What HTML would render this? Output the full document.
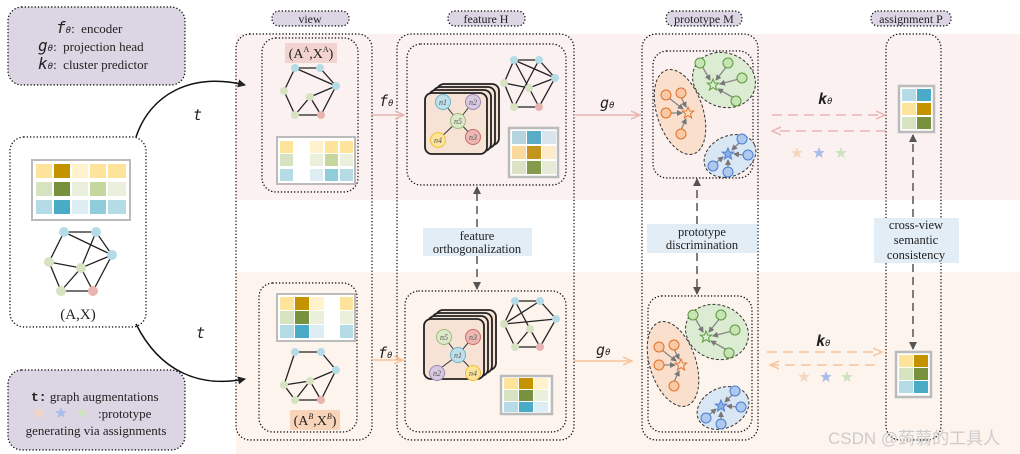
<!DOCTYPE html>
<html><head><meta charset="utf-8"><style>
html,body{margin:0;padding:0;background:#fff}
svg{display:block}
.s{font-family:"Liberation Serif",serif;fill:#222}
.m{font-family:"DejaVu Sans Mono","Liberation Mono",monospace;font-style:italic;fill:#222}
</style></head><body>
<svg width="1020" height="454" viewBox="0 0 1020 454" xmlns="http://www.w3.org/2000/svg">
<defs>
<marker id="ak" markerWidth="8" markerHeight="8" refX="7" refY="4" orient="auto" markerUnits="userSpaceOnUse"><path d="M0,0 L8,4 L0,8 z" fill="#222"/></marker>
<marker id="ag" markerWidth="8" markerHeight="8" refX="7" refY="4" orient="auto" markerUnits="userSpaceOnUse"><path d="M0,0 L8,4 L0,8 z" fill="#555"/></marker>
<marker id="ap" markerWidth="10" markerHeight="10" refX="9" refY="5" orient="auto" markerUnits="userSpaceOnUse"><path d="M0,1 L9,5 L0,9" fill="none" stroke="#e8b4b0" stroke-width="1.5"/></marker>
<marker id="ao" markerWidth="10" markerHeight="10" refX="9" refY="5" orient="auto" markerUnits="userSpaceOnUse"><path d="M0,1 L9,5 L0,9" fill="none" stroke="#f7c49c" stroke-width="1.5"/></marker>
<marker id="as" markerWidth="6" markerHeight="6" refX="5" refY="3" orient="auto" markerUnits="userSpaceOnUse"><path d="M0,0 L6,3 L0,6 z" fill="#777"/></marker>
<path id="star" d="M0,-6 L1.6,-2 L5.7,-1.9 L2.5,0.8 L3.6,5 L0,2.6 L-3.6,5 L-2.5,0.8 L-5.7,-1.9 L-1.6,-2 z"/>
<g id="clusters">
 <ellipse cx="680" cy="112" rx="23" ry="44" transform="rotate(-18 680 112)" fill="#f9dfcc" stroke="#333" stroke-dasharray="3 2"/>
 <ellipse cx="724" cy="80" rx="32" ry="27" transform="rotate(20 724 80)" fill="#dcecd2" stroke="#333" stroke-dasharray="3 2"/>
 <ellipse cx="730" cy="156" rx="27" ry="20" transform="rotate(-25 730 156)" fill="#d9e6f4" stroke="#333" stroke-dasharray="3 2"/>
 <g stroke="#888" stroke-width="1.3" marker-end="url(#as)">
  <line x1="702" y1="66" x2="710" y2="80"/><line x1="727" y1="66" x2="716" y2="80"/><line x1="739" y1="79" x2="720" y2="84"/><line x1="734" y1="98" x2="718" y2="89"/>
  <line x1="669" y1="98" x2="683" y2="109"/><line x1="681" y1="97" x2="686" y2="107"/><line x1="670" y1="113" x2="682" y2="113"/><line x1="681" y1="130" x2="686" y2="119"/>
  <line x1="740" y1="142" x2="732" y2="150"/><line x1="744" y1="155" x2="734" y2="154"/><line x1="728" y1="168" x2="728" y2="160"/><line x1="716" y1="163" x2="723" y2="157"/>
 </g>
 <g fill="#c8e3b4" stroke="#5a9a3c" stroke-width="1"><circle cx="700" cy="63" r="5"/><circle cx="728" cy="63" r="5"/><circle cx="742" cy="78" r="5"/><circle cx="736" cy="101" r="5"/></g>
 <g fill="#f9c9a6" stroke="#e0712c" stroke-width="1"><circle cx="666" cy="95" r="5"/><circle cx="681" cy="93" r="5"/><circle cx="666" cy="113" r="5"/><circle cx="681" cy="134" r="5"/></g>
 <g fill="#aec8ee" stroke="#4a7ed0" stroke-width="1"><circle cx="742" cy="139" r="5"/><circle cx="748" cy="155" r="5"/><circle cx="728" cy="172" r="5"/><circle cx="713" cy="166" r="5"/></g>
 <use href="#star" x="713" y="85" fill="none" stroke="#5a9a3c"/>
 <use href="#star" x="688" y="113" fill="none" stroke="#e0712c"/>
 <use href="#star" x="728" y="154" fill="#8fb0e6" stroke="#4a7ed0"/>
</g>
</defs>

<rect x="236" y="34" width="784" height="166" fill="#fbf1f0"/>
<rect x="236" y="272" width="784" height="182" fill="#fdf4ee"/>

<g fill="none" stroke="#111" stroke-width="1.4" stroke-dasharray="0.1 3.2" stroke-linecap="round">
 <rect x="8" y="7" width="177" height="78" rx="14" fill="#dcd6e4"/>
 <rect x="8" y="370" width="177" height="80" rx="14" fill="#dcd6e4"/>
 <rect x="10" y="137" width="136" height="190" rx="14"/>
 <rect x="236" y="34" width="136" height="406" rx="14"/>
 <rect x="262" y="38" width="96" height="154" rx="14"/>
 <rect x="259" y="283" width="98" height="149" rx="14"/>
 <rect x="397" y="34" width="177" height="406" rx="14"/>
 <rect x="407" y="44" width="159" height="141" rx="14"/>
 <rect x="405" y="291" width="161" height="141" rx="14"/>
 <rect x="642" y="34" width="116" height="406" rx="14"/>
 <rect x="653" y="51" width="100" height="127" rx="14"/>
 <rect x="648" y="296" width="104" height="136" rx="14"/>
 <rect x="886" y="34" width="55" height="406" rx="14"/>
 <rect x="272" y="11" width="77" height="15" rx="7" fill="#dcd6e4"/>
 <rect x="448" y="11" width="77" height="15" rx="7" fill="#dcd6e4"/>
 <rect x="666" y="11" width="76" height="15" rx="7" fill="#dcd6e4"/>
 <rect x="871" y="11" width="80" height="15" rx="7" fill="#dcd6e4"/>
</g>
<g class="s" font-size="12" text-anchor="middle">
 <text x="310" y="23">view</text><text x="486" y="23">feature H</text><text x="704" y="23">prototype M</text><text x="911" y="23">assignment P</text>
</g>

<g font-size="13">
 <text x="56" y="33"><tspan class="m" font-size="16">f</tspan><tspan class="m" font-size="9">θ</tspan><tspan class="s">:&#160;&#160;encoder</tspan></text>
 <text x="38" y="51"><tspan class="m" font-size="16">g</tspan><tspan class="m" font-size="9">θ</tspan><tspan class="s">:&#160;&#160;projection head</tspan></text>
 <text x="38" y="69"><tspan class="m" font-size="16">k</tspan><tspan class="m" font-size="9">θ</tspan><tspan class="s">:&#160;&#160;cluster predictor</tspan></text>
 <text x="31" y="401"><tspan font-family="Liberation Mono,monospace" font-weight="bold" fill="#222">t:</tspan><tspan class="s"> graph augmentations</tspan></text>
 <text x="98" y="418" class="s">:prototype</text>
 <text x="96" y="435" class="s" text-anchor="middle">generating via assignments</text>
</g>
<use href="#star" x="39" y="413" fill="#f6d6bd"/><use href="#star" x="61" y="413" fill="#a9bde8"/><use href="#star" x="82" y="413" fill="#cfe3c1"/>

<g>
 <rect x="32" y="160" width="98" height="60" fill="#fff" stroke="#bbb" stroke-width="2"/>
 <rect x="36" y="164" width="16" height="14" fill="#fde49a"/><rect x="54" y="164" width="16" height="14" fill="#c49300"/><rect x="72" y="164" width="16" height="14" fill="#fff2cc"/><rect x="90" y="164" width="16" height="14" fill="#fde49a"/><rect x="108" y="164" width="18" height="14" fill="#fde49a"/>
 <rect x="36" y="182" width="16" height="14" fill="#d7e2c0"/><rect x="54" y="182" width="16" height="14" fill="#78913c"/><rect x="72" y="182" width="16" height="14" fill="#eaf0dc"/><rect x="90" y="182" width="16" height="14" fill="#c5d79e"/><rect x="108" y="182" width="18" height="14" fill="#eaf0dc"/>
 <rect x="36" y="200" width="16" height="14" fill="#b5dce6"/><rect x="54" y="200" width="16" height="14" fill="#4aabc6"/><rect x="72" y="200" width="16" height="14" fill="#dceef4"/><rect x="90" y="200" width="16" height="14" fill="#90cdda"/><rect x="108" y="200" width="18" height="14" fill="#b5dce6"/>
</g>
<g>
 <rect x="277" y="137" width="78" height="47" fill="#fff" stroke="#bbb" stroke-width="2"/>
 <rect x="280" y="141" width="13" height="12" fill="#fde49a"/><rect x="310" y="141" width="13" height="12" fill="#fff2cc"/><rect x="325" y="141" width="13" height="12" fill="#fde49a"/><rect x="340" y="141" width="13" height="12" fill="#fde49a"/>
 <rect x="280" y="154" width="13" height="12" fill="#d7e2c0"/><rect x="310" y="154" width="13" height="12" fill="#eaf0dc"/><rect x="325" y="154" width="13" height="12" fill="#c5d79e"/><rect x="340" y="154" width="13" height="12" fill="#eaf0dc"/>
 <rect x="280" y="169" width="13" height="12" fill="#b5dce6"/><rect x="310" y="169" width="13" height="12" fill="#dceef4"/><rect x="325" y="169" width="13" height="12" fill="#90cdda"/><rect x="340" y="169" width="13" height="12" fill="#b5dce6"/>
</g>
<g>
 <rect x="277" y="294" width="78" height="47" fill="#fff" stroke="#bbb" stroke-width="2"/>
 <rect x="280" y="297" width="14" height="13" fill="#fde49a"/><rect x="295" y="297" width="14" height="13" fill="#c49300"/><rect x="310" y="297" width="14" height="13" fill="#fff2cc"/><rect x="340" y="297" width="13" height="13" fill="#fde49a"/>
 <rect x="280" y="311" width="14" height="13" fill="#d7e2c0"/><rect x="295" y="311" width="14" height="13" fill="#78913c"/><rect x="310" y="311" width="14" height="13" fill="#eaf0dc"/><rect x="340" y="311" width="13" height="13" fill="#eaf0dc"/>
 <rect x="280" y="325" width="14" height="13" fill="#b5dce6"/><rect x="295" y="325" width="14" height="13" fill="#4aabc6"/><rect x="310" y="325" width="14" height="13" fill="#dceef4"/><rect x="340" y="325" width="13" height="13" fill="#b5dce6"/>
</g>
<g>
 <rect x="509" y="128" width="49" height="49" fill="#fff" stroke="#bbb" stroke-width="2.5"/>
 <rect x="512" y="131" width="14" height="13" fill="#b5d4e0"/><rect x="527" y="131" width="14" height="13" fill="#5aabc6"/><rect x="542" y="131" width="14" height="13" fill="#dbe4ea"/>
 <rect x="512" y="146" width="14" height="13" fill="#fad99a"/><rect x="527" y="146" width="14" height="13" fill="#c4951e"/><rect x="542" y="146" width="14" height="13" fill="#fdebcc"/>
 <rect x="512" y="161" width="14" height="13" fill="#dbe2c6"/><rect x="527" y="161" width="14" height="13" fill="#849a4c"/><rect x="542" y="161" width="14" height="13" fill="#e8ead8"/>
</g>
<g>
 <rect x="501" y="376" width="51" height="38" fill="#fff" stroke="#bbb" stroke-width="2.5"/>
 <rect x="504" y="378" width="14" height="11" fill="#fde49a"/><rect x="519" y="378" width="14" height="11" fill="#c49300"/><rect x="534" y="378" width="14" height="11" fill="#fff2cc"/>
 <rect x="504" y="390" width="14" height="11" fill="#d7e2c0"/><rect x="519" y="390" width="14" height="11" fill="#78913c"/><rect x="534" y="390" width="14" height="11" fill="#eaf0dc"/>
 <rect x="504" y="402" width="14" height="10" fill="#b5dce6"/><rect x="519" y="402" width="14" height="10" fill="#4aabc6"/><rect x="534" y="402" width="14" height="10" fill="#dceef4"/>
</g>
<g>
 <rect x="899" y="86" width="35" height="46" fill="#fff" stroke="#bbb" stroke-width="2.5"/>
 <rect x="902" y="89" width="14" height="12" fill="#b5dce6"/><rect x="917" y="89" width="14" height="12" fill="#4aabc6"/>
 <rect x="902" y="103" width="14" height="12" fill="#fde49a"/><rect x="917" y="103" width="14" height="12" fill="#c49300"/>
 <rect x="902" y="117" width="14" height="12" fill="#d7e2c0"/><rect x="917" y="117" width="14" height="12" fill="#78913c"/>
</g>
<g>
 <rect x="896" y="352" width="35" height="45" fill="#fff" stroke="#bbb" stroke-width="2.5"/>
 <rect x="899" y="355" width="14" height="12" fill="#fde49a"/><rect x="914" y="355" width="14" height="12" fill="#c49300"/>
 <rect x="899" y="368" width="14" height="12" fill="#d7e2c0"/><rect x="914" y="368" width="14" height="12" fill="#78913c"/>
 <rect x="899" y="381" width="14" height="12" fill="#b5dce6"/><rect x="914" y="381" width="14" height="12" fill="#4aabc6"/>
</g>

<g stroke="#222" stroke-width="1.3" fill="none">
 <path d="M64,232 L96,232 L112,255 L93,291 L61,291 L49,262 Z M64,232 L112,255 M96,232 L81,268 M49,262 L81,268 L112,255 M81,268 L61,291 M81,268 L93,291"/>
 <path d="M295,68 L320,68 L336,86 L321,115 L295,115 L284,91 Z M295,68 L336,86 M310,97 L336,86 M310,97 L295,115 M310,97 L321,115"/>
 <path d="M295,352 L321,352 M295,352 L284,385 L295,400 M321,352 L336,370 L321,400 L295,400 M284,385 L310,381 L336,370 M310,381 L295,400 M310,381 L321,400"/>
 <path d="M514,60 L539,60 L555,78 L539,107 L514,107 L504,83 Z M514,60 L529,88 M539,60 L514,107 M514,60 L555,78 M504,83 L529,88 L555,78 M529,88 L539,107"/>
 <path d="M515,301 L540,301 L556,319 L540,347 L515,347 L504,324 Z M515,301 L530,329 M540,301 L504,324 M504,324 L556,319 M530,329 L515,347 M530,329 L540,347"/>
</g>
<g>
 <circle cx="64" cy="232" r="5" fill="#b5dce6"/><circle cx="96" cy="232" r="5" fill="#b5dce6"/><circle cx="112" cy="255" r="5" fill="#b5dce6"/><circle cx="49" cy="262" r="5" fill="#d7e2c0"/><circle cx="81" cy="268" r="5" fill="#d7e2c0"/><circle cx="61" cy="291" r="5" fill="#d7e2c0"/><circle cx="93" cy="291" r="5" fill="#e8b4b0"/>
 <circle cx="295" cy="68" r="4" fill="#b5dce6"/><circle cx="320" cy="68" r="4" fill="#b5dce6"/><circle cx="336" cy="86" r="4" fill="#b5dce6"/><circle cx="284" cy="91" r="4" fill="#d7e2c0"/><circle cx="310" cy="97" r="4" fill="#d7e2c0"/><circle cx="295" cy="115" r="4" fill="#d7e2c0"/><circle cx="321" cy="115" r="4" fill="#e8b4b0"/>
 <circle cx="295" cy="352" r="4" fill="#b5dce6"/><circle cx="321" cy="352" r="4" fill="#b5dce6"/><circle cx="336" cy="370" r="4" fill="#b5dce6"/><circle cx="284" cy="385" r="4" fill="#d7e2c0"/><circle cx="310" cy="381" r="4" fill="#d7e2c0"/><circle cx="295" cy="400" r="4" fill="#d7e2c0"/><circle cx="321" cy="400" r="4" fill="#e8b4b0"/>
 <circle cx="514" cy="60" r="4" fill="#b5dce6"/><circle cx="539" cy="60" r="4" fill="#b5dce6"/><circle cx="555" cy="78" r="4" fill="#b5dce6"/><circle cx="504" cy="83" r="4" fill="#d7e2c0"/><circle cx="529" cy="88" r="4" fill="#d7e2c0"/><circle cx="514" cy="107" r="4" fill="#d7e2c0"/><circle cx="539" cy="107" r="4" fill="#e8b4b0"/>
 <circle cx="515" cy="301" r="4" fill="#b5dce6"/><circle cx="540" cy="301" r="4" fill="#b5dce6"/><circle cx="556" cy="319" r="4" fill="#b5dce6"/><circle cx="504" cy="324" r="4" fill="#d7e2c0"/><circle cx="530" cy="329" r="4" fill="#d7e2c0"/><circle cx="515" cy="347" r="4" fill="#d7e2c0"/><circle cx="540" cy="347" r="4" fill="#e8b4b0"/>
</g>
<rect x="285" y="43" width="52" height="20" fill="#f3d3d0"/>
<text x="311" y="58" class="s" font-size="14" text-anchor="middle">(A<tspan font-size="8" dy="-6">A</tspan><tspan dy="6">,X</tspan><tspan font-size="8" dy="-6">A</tspan><tspan dy="6">)</tspan></text>
<rect x="290" y="410" width="50" height="20" fill="#fad4b8"/>
<text x="315" y="425" class="s" font-size="14" text-anchor="middle">(A<tspan font-size="8" dy="-6" font-style="italic">B</tspan><tspan dy="6">,X</tspan><tspan font-size="8" dy="-6" font-style="italic">B</tspan><tspan dy="6">)</tspan></text>
<text x="78" y="319" class="s" font-size="15" text-anchor="middle">(A,X)</text>

<g stroke="#222" stroke-width="1.8" fill="#f7e3d6">
 <rect x="437" y="84" width="62" height="61" rx="7"/><rect x="433" y="87" width="62" height="61" rx="7"/><rect x="429" y="90" width="62" height="61" rx="7"/><rect x="425" y="93" width="62" height="61" rx="7"/>
 <rect x="436" y="310" width="60" height="60" rx="7"/><rect x="432" y="313" width="60" height="60" rx="7"/><rect x="428" y="316" width="60" height="60" rx="7"/><rect x="424" y="319" width="60" height="60" rx="7"/>
</g>
<g stroke="#333" stroke-width="1" fill="none"><path d="M443,102 L458,121 L473,102 M458,121 L438,140 M458,121 L473,137 M444,337 L458,355 L473,337 M458,355 L437,371 M458,355 L473,371"/></g>
<g font-family="Liberation Serif,serif" font-style="italic" font-size="8" text-anchor="middle" fill="#555">
 <circle cx="443" cy="102" r="7.5" fill="#bfe0ea" stroke="#6fb3c8"/><text x="443" y="105">n1</text>
 <circle cx="473" cy="102" r="7.5" fill="#d6c9e0" stroke="#9c88b4"/><text x="473" y="105">n2</text>
 <circle cx="458" cy="121" r="7.5" fill="#dce8c8" stroke="#9fbc7e"/><text x="458" y="124">n5</text>
 <circle cx="438" cy="140" r="7.5" fill="#fde49a" stroke="#f0c030"/><text x="438" y="143">n4</text>
 <circle cx="473" cy="137" r="7.5" fill="#edb8b4" stroke="#cc6b66"/><text x="473" y="140">n3</text>
 <circle cx="444" cy="337" r="7.5" fill="#dce8c8" stroke="#9fbc7e"/><text x="444" y="340">n5</text>
 <circle cx="473" cy="337" r="7.5" fill="#edb8b4" stroke="#cc6b66"/><text x="473" y="340">n3</text>
 <circle cx="458" cy="355" r="7.5" fill="#bfe0ea" stroke="#6fb3c8"/><text x="458" y="358">n1</text>
 <circle cx="437" cy="373" r="7.5" fill="#d6c9e0" stroke="#9c88b4"/><text x="437" y="376">n2</text>
 <circle cx="473" cy="373" r="7.5" fill="#fde49a" stroke="#f0c030"/><text x="473" y="376">n4</text>
</g>

<use href="#clusters"/>
<use href="#clusters" transform="translate(-7,252)"/>

<path d="M136,137 C150,95 190,72 245,85" fill="none" stroke="#111" stroke-width="1.5" marker-end="url(#ak)"/>
<path d="M136,324 C160,372 200,388 245,379" fill="none" stroke="#111" stroke-width="1.5" marker-end="url(#ak)"/>
<text x="193" y="120" class="m" font-size="15" font-style="normal">t</text>
<text x="196" y="338" class="m" font-size="15" font-style="normal">t</text>

<g stroke-width="1.5" fill="none">
 <line x1="372" y1="115" x2="404" y2="115" stroke="#e8b4b0" marker-end="url(#ap)"/>
 <line x1="574" y1="115" x2="640" y2="115" stroke="#e8b4b0" marker-end="url(#ap)"/>
 <line x1="772" y1="115" x2="885" y2="115" stroke="#e8b4b0" stroke-dasharray="10 6" marker-end="url(#ap)"/>
 <line x1="886" y1="131" x2="772" y2="131" stroke="#e8b4b0" stroke-dasharray="10 6" marker-end="url(#ap)"/>
 <line x1="372" y1="360" x2="403" y2="360" stroke="#f7c49c" marker-end="url(#ao)"/>
 <line x1="574" y1="361" x2="632" y2="361" stroke="#f7c49c" marker-end="url(#ao)"/>
 <line x1="767" y1="352" x2="882" y2="352" stroke="#f7c49c" stroke-dasharray="10 6" marker-end="url(#ao)"/>
 <line x1="875" y1="365" x2="770" y2="365" stroke="#f7c49c" stroke-dasharray="10 6" marker-end="url(#ao)"/>
</g>
<g font-size="15">
 <text x="379" y="106"><tspan class="m">f</tspan><tspan class="m" font-size="9">θ</tspan></text>
 <text x="378" y="358"><tspan class="m">f</tspan><tspan class="m" font-size="9">θ</tspan></text>
 <text x="600" y="108"><tspan class="m">g</tspan><tspan class="m" font-size="9">θ</tspan></text>
 <text x="596" y="355"><tspan class="m">g</tspan><tspan class="m" font-size="9">θ</tspan></text>
 <text x="818" y="104"><tspan class="m" font-weight="bold">k</tspan><tspan class="m" font-size="9">θ</tspan></text>
 <text x="816" y="346"><tspan class="m" font-weight="bold">k</tspan><tspan class="m" font-size="9">θ</tspan></text>
</g>
<use href="#star" x="797" y="153" fill="#f6d6bd"/><use href="#star" x="819" y="153" fill="#a9bde8"/><use href="#star" x="841" y="153" fill="#cfe3c1"/>
<use href="#star" x="804" y="377" fill="#f6d6bd"/><use href="#star" x="826" y="377" fill="#a9bde8"/><use href="#star" x="847" y="377" fill="#cfe3c1"/>

<g stroke="#555" stroke-width="1.5" stroke-dasharray="8 5" fill="none">
 <line x1="477" y1="227" x2="477" y2="187" marker-end="url(#ag)"/>
 <line x1="477" y1="256" x2="477" y2="289" marker-end="url(#ag)"/>
 <line x1="697" y1="224" x2="697" y2="179" marker-end="url(#ag)"/>
 <line x1="697" y1="253" x2="697" y2="294" marker-end="url(#ag)"/>
 <line x1="913" y1="217" x2="913" y2="135" marker-end="url(#ag)"/>
 <line x1="913" y1="264" x2="913" y2="349" marker-end="url(#ag)"/>
</g>
<rect x="423" y="228" width="109" height="28" fill="#e2edf6"/>
<rect x="647" y="224" width="110" height="29" fill="#e2edf6"/>
<rect x="874" y="218" width="85" height="45" fill="#e2edf6"/>
<g class="s" font-size="12.5" text-anchor="middle">
 <text x="477" y="240">feature</text><text x="477" y="253">orthogonalization</text>
 <text x="702" y="236">prototype</text><text x="702" y="249">discrimination</text>
 <text x="916" y="229">cross-view</text><text x="916" y="244">semantic</text><text x="916" y="259">consistency</text>
</g>

<text x="828" y="444" font-family="Liberation Sans,'Noto Sans CJK SC',sans-serif" font-size="17" fill="#c8c8c8" fill-opacity="0.9">CSDN @蒟蒻的工具人</text>
</svg>
</body></html>
